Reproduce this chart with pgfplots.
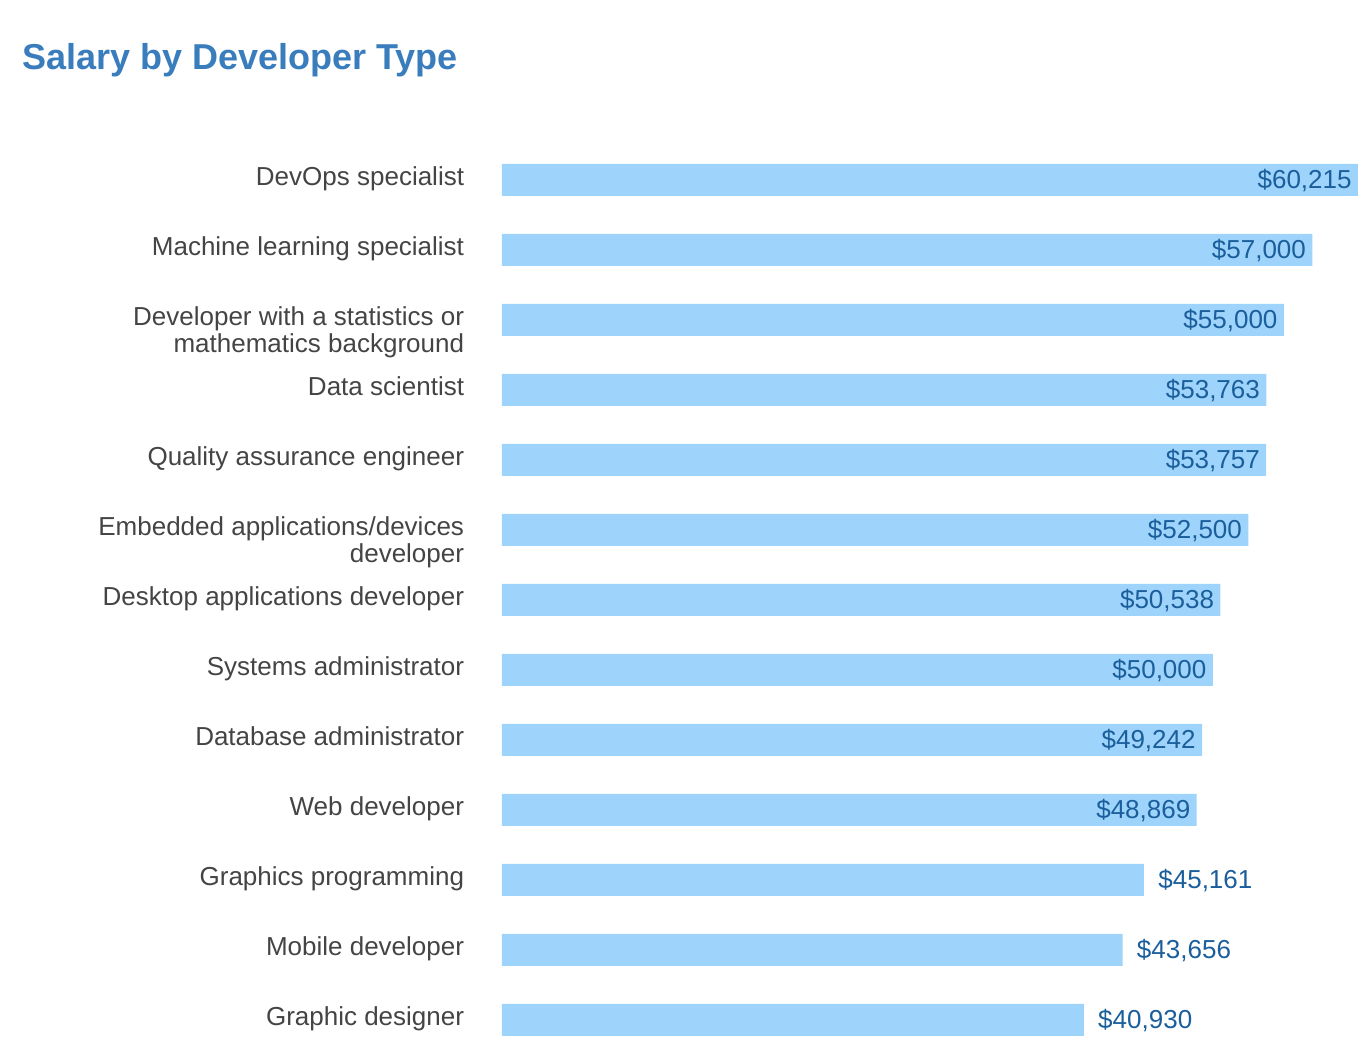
\documentclass[border=0pt]{standalone}
\usepackage{pgfplots}
\pgfplotsset{compat=1.18}
\usepackage{fontspec}
\setmainfont{Liberation Sans}
\definecolor{barblue}{HTML}{9ED4FB}
\definecolor{valblue}{HTML}{1A5E9C}
\definecolor{titleblue}{HTML}{3A7DBD}
\definecolor{labelgray}{HTML}{444444}

% first line sits where a one-line label would, second hangs below
\newcommand{\twoline}[2]{\raisebox{0pt}[9pt][3pt]{\begin{tabular}[t]{@{}r@{}}#1\\#2\end{tabular}}}

\begin{document}
\begin{tikzpicture}
\useasboundingbox (-251pt,0pt) rectangle (435pt,526pt);
\node[anchor=base west, font=\fontsize{18}{18}\selectfont\bfseries, text=titleblue, inner sep=0pt]
  at (-240pt,491pt) {Salary by Developer Type};
\begin{axis}[
  at={(0pt,0pt)}, anchor=south west,
  scale only axis,
  width=428pt, height=453.5pt,
  xmin=0, xmax=60215,
  ymin=-0.457, ymax=12.5,
  xbar, bar width=16pt,
  axis line style={draw=none},
  major tick style={draw=none},
  xtick=\empty,
  ytick={0,...,12},
  yticklabels={Graphic designer, Mobile developer, Graphics programming, Web developer,
    Database administrator, Systems administrator, Desktop applications developer,
    {\twoline{Embedded applications/devices}{developer}},
    Quality assurance engineer, Data scientist,
    {\twoline{Developer with a statistics or}{mathematics background}},
    Machine learning specialist, DevOps specialist},
  yticklabel style={font=\fontsize{13}{13}\selectfont, text=labelgray, inner sep=0pt,
    text height=9pt, text depth=3pt, xshift=-14.5pt},
  clip=false,
  nodes near coords={\$\pgfmathprintnumber[fixed,precision=0,1000 sep={,},assume math mode=true]{\pgfplotspointmeta}},
  every node near coord/.append style={font=\fontsize{13}{13}\selectfont, text=valblue, inner sep=0pt,
    text height=9pt, text depth=3pt, yshift=-1.5pt},
]
\addplot[fill=barblue, draw=none, bar shift=0pt,
  nodes near coords style={anchor=east, xshift=-3pt}]
  coordinates {(60215,12) (57000,11) (55000,10) (53763,9) (53757,8) (52500,7)
    (50538,6) (50000,5) (49242,4) (48869,3)};
\addplot[fill=barblue, draw=none, bar shift=0pt,
  nodes near coords style={anchor=west, xshift=7pt}]
  coordinates {(45161,2) (43656,1) (40930,0)};
\end{axis}
\end{tikzpicture}
\end{document}
